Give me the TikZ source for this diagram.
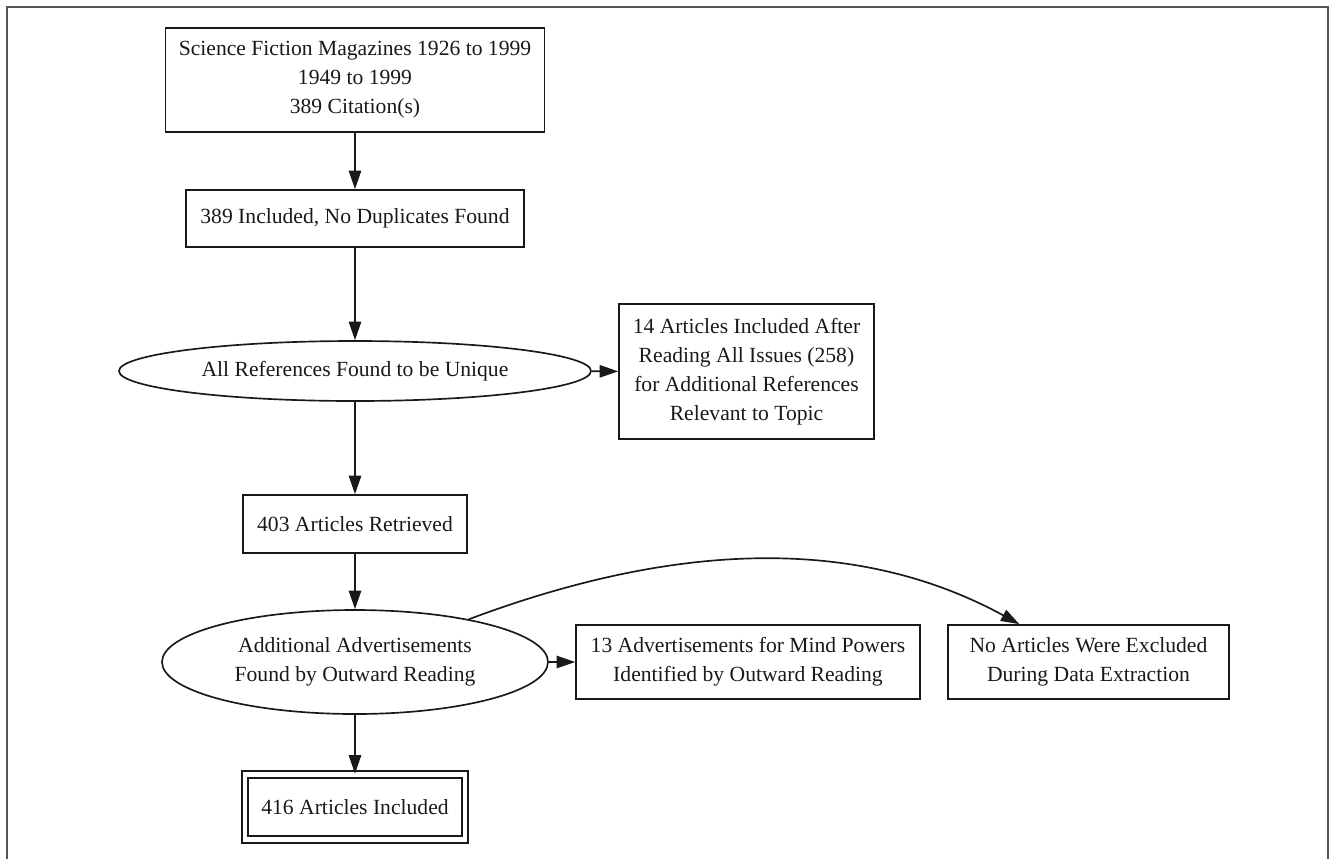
\documentclass[tikz,border=0pt]{standalone}
\usepackage{fontspec}
\setmainfont{Liberation Serif}
\usepackage{tikz}
\usepackage{xcolor}
\usetikzlibrary{calc,arrows.meta,positioning,shapes.geometric}
\definecolor{inkGray}{RGB}{25,25,25}
\definecolor{frameGray}{RGB}{85,85,85}

\begin{document}
\begin{tikzpicture}[
  every node/.style={text=inkGray,font=\fontsize{12.3}{16.5}\selectfont,align=center,inner sep=0pt},
  box/.style={draw=inkGray,line width=.95pt,rectangle},
  oval/.style={draw=inkGray,line width=.95pt,ellipse},
  arr/.style={draw=inkGray,line width=.95pt,-{Triangle[length=10.5pt,width=7pt]}}
]
\useasboundingbox (0,0) rectangle (26.6,-17.16);
\draw[frameGray,line width=.9pt] (0.14,-17.4) -- (0.14,-0.14) -- (26.56,-0.14) -- (26.56,-17.4);

\node[box,minimum width=7.58cm,minimum height=2.08cm] (mags) at (7.10,-1.60) {Science Fiction Magazines 1926 to 1999\\1949 to 1999\\389 Citation(s)};
\node[box,minimum width=6.76cm,minimum height=1.14cm] (nodup) at (7.10,-4.37) {389 Included, No Duplicates Found};
\node[oval,minimum width=9.44cm,minimum height=1.20cm] (unique) at (7.10,-7.42) {All References Found to be Unique};
\node[box,minimum width=5.10cm,minimum height=2.70cm] (issues) at (14.93,-7.43) {14 Articles Included After\\Reading All Issues (258)\\for Additional References\\Relevant to Topic};
\node[box,minimum width=4.48cm,minimum height=1.16cm] (retrieved) at (7.10,-10.48) {403 Articles Retrieved};
\node[oval,minimum width=7.72cm,minimum height=2.08cm] (outward) at (7.10,-13.24) {Additional Advertisements\\Found by Outward Reading};
\node[box,minimum width=6.88cm,minimum height=1.48cm] (mindpow) at (14.96,-13.24) {13 Advertisements for Mind Powers\\Identified by Outward Reading};
\node[box,minimum width=5.62cm,minimum height=1.48cm] (noexcl) at (21.77,-13.24) {No Articles Were Excluded\\During Data Extraction};
\node[box,double=white,double distance=2.8pt,minimum width=4.40cm,minimum height=1.30cm] (final) at (7.10,-16.14) {416 Articles Included};

\draw[arr] (mags) -- (nodup);
\draw[arr] (nodup) -- (unique);
\draw[arr] (unique) -- (issues);
\draw[arr] (unique) -- (retrieved);
\draw[arr] (retrieved) -- (outward);
\draw[arr] (outward) -- (mindpow);
\draw[arr] (outward) .. controls (13.6,-10.8) and (17.2,-10.74) .. (noexcl);
\draw[arr] (outward) -- (final);
\end{tikzpicture}
\end{document}
